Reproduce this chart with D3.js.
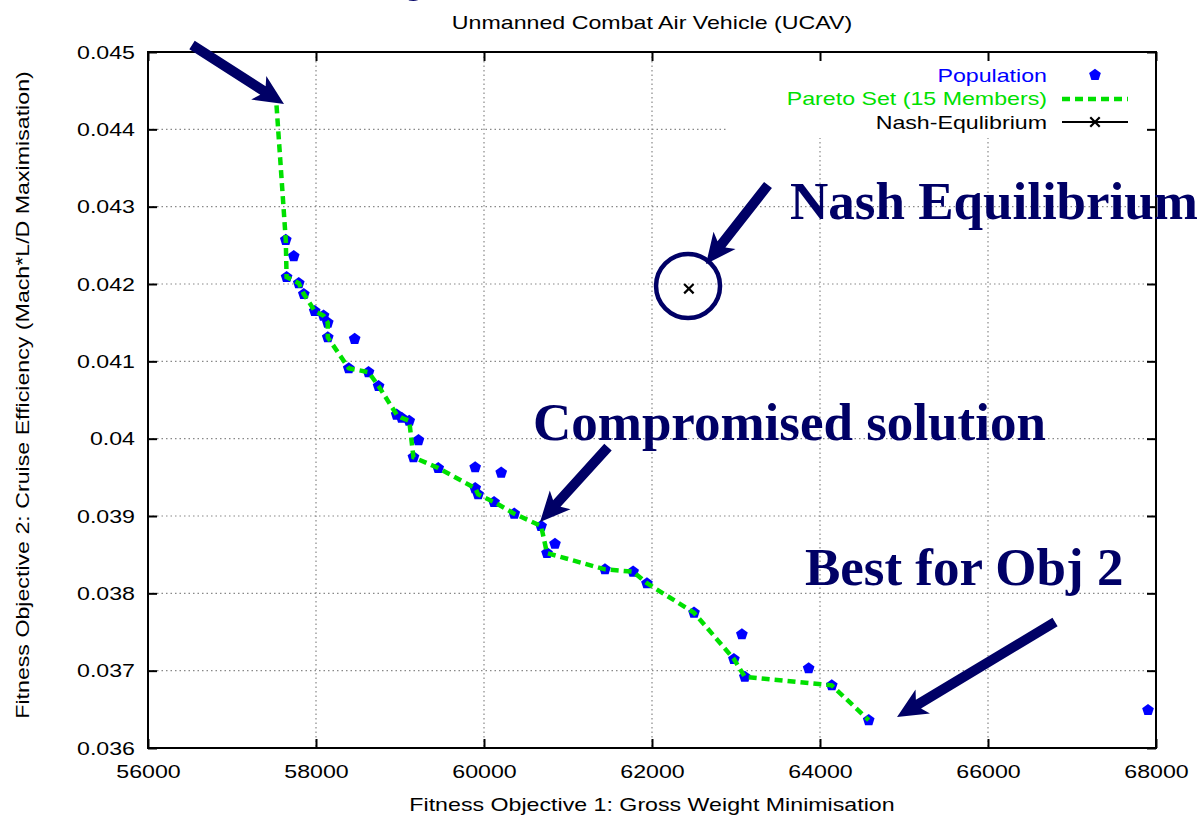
<!DOCTYPE html>
<html>
<head>
<meta charset="utf-8">
<script src="https://cdn.jsdelivr.net/npm/d3@7"></script>
<style>
  body { margin: 0; background: #fff; }
  svg { display: block; }
  .sans { font-family: "Liberation Sans", Arial, sans-serif; font-size: 19px; }
  .note { font-family: "Liberation Serif", "Times New Roman", serif; font-weight: bold; font-size: 53px; fill: #000066; }
</style>
</head>
<body>
<svg width="1200" height="820"></svg>
<script>
// tick values / labels
const xTicks = [56000, 58000, 60000, 62000, 64000, 66000, 68000];
const xTickLabels = ['56000', '58000', '60000', '62000', '64000', '66000', '68000'];
const yTicks = [0.036, 0.037, 0.038, 0.039, 0.040, 0.041, 0.042, 0.043, 0.044, 0.045];
const yTickLabels = ['0.036', '0.037', '0.038', '0.039', '0.04', '0.041', '0.042', '0.043', '0.044', '0.045'];

// Pareto set (line through the front)
const paretoX = [57530, 57640, 57650, 57795, 57855, 57985, 58090, 58140, 58140, 58390, 58625, 58745,
  58960, 59020, 59110, 59160, 59455, 59895, 59930, 60120, 60360, 60680, 60750, 61440, 61775,
  61940, 62500, 62975, 63105, 64140, 64580];
const paretoY = [0.04431, 0.04257, 0.04209, 0.04201, 0.04187, 0.04165, 0.04159, 0.04150, 0.04131,
  0.04091, 0.04086, 0.04068, 0.04031, 0.04027, 0.04023, 0.03976, 0.03962, 0.03936, 0.03928,
  0.03918, 0.03903, 0.03887, 0.03852, 0.03831, 0.03828, 0.03813, 0.03775, 0.03715, 0.03692,
  0.03681, 0.03636];

// whole population
const popX = [57640, 57650, 57795, 57855, 57985, 58090, 58140, 58140, 58390, 58625, 58745,
  58960, 59020, 59110, 59160, 59455, 59895, 59930, 60120, 60360, 60680, 60750, 61440, 61775,
  61940, 62500, 62975, 63105, 64140, 64580,
  57735, 58460, 59220, 59895, 60205, 60845, 63070, 63865, 67905];
const popY = [0.04257, 0.04209, 0.04201, 0.04187, 0.04165, 0.04159, 0.04150, 0.04131,
  0.04091, 0.04086, 0.04068, 0.04031, 0.04027, 0.04023, 0.03976, 0.03962, 0.03936, 0.03928,
  0.03918, 0.03903, 0.03887, 0.03852, 0.03831, 0.03828, 0.03813, 0.03775, 0.03715, 0.03692,
  0.03681, 0.03636,
  0.04236, 0.04129, 0.03998, 0.03963, 0.03956, 0.03864, 0.03747, 0.03703, 0.03649];

// Nash equilibrium
const nashX = [62439];
const nashY = [0.04194];

// annotations (data coords)
const noteTexts = ['Obj', 'Nash Equilibrium', 'Compromised solution', 'Best for Obj 2'];
const noteX = [58270, 63643, 60583, 63821];
const noteY = [0.0458, 0.04284, 0.039983, 0.038108];
const arrowFrom = [[56524, 0.045091], [63381, 0.04328], [61476, 0.039892], [66798, 0.037629]];
const arrowTo = [[57619, 0.044328], [62643, 0.042259], [60667, 0.038922], [64917, 0.036401]];

const mLeft = 148, mRight = 1156, mTop = 52, mBottom = 748;
const navy = '#000066';
const green = '#00e000';

const svg = d3.select('svg');

const x = d3.scaleLinear().domain([56000, 68000]).range([mLeft, mRight]);
const y = d3.scaleLinear().domain([0.036, 0.045]).range([mBottom, mTop]);

// stretch helper: source font is wider than Liberation Sans
const stretch = sel => sel.each(function () {
  const len = this.getComputedTextLength();
  d3.select(this).attr('textLength', len * 1.22).attr('lengthAdjust', 'spacingAndGlyphs');
});

// grid
const grid = svg.append('g')
    .attr('stroke', '#888')
    .attr('stroke-width', 1.2)
    .attr('stroke-dasharray', '1.5,3');
grid.selectAll('.gx')
    .data(xTicks.slice(1, -1))
    .enter()
    .append('line')
    .attr('x1', d => x(d)).attr('x2', d => x(d))
    .attr('y1', mTop).attr('y2', mBottom);
grid.selectAll('.gy')
    .data(yTicks.slice(1, -1))
    .enter()
    .append('line')
    .attr('x1', mLeft).attr('x2', mRight)
    .attr('y1', d => y(d)).attr('y2', d => y(d));

// legend background hides grid
svg.append('rect')
    .attr('x', 727).attr('y', mTop + 1)
    .attr('width', mRight - 728).attr('height', 85)
    .attr('fill', '#fff');

// pentagon symbol
const pentagon = {
  draw(ctx, size) {
    const r = Math.sqrt(size / 2.378);
    for (let i = 0; i < 5; i++) {
      const a = -Math.PI / 2 + i * 2 * Math.PI / 5;
      if (i === 0) ctx.moveTo(r * Math.cos(a), r * Math.sin(a));
      else ctx.lineTo(r * Math.cos(a), r * Math.sin(a));
    }
    ctx.closePath();
  }
};
const pent = d3.symbol().type(pentagon).size(90);

svg.append('g')
  .selectAll('path')
  .data(popX.map((d, i) => [d, popY[i]]))
  .enter()
  .append('path')
    .attr('d', pent)
    .attr('transform', d => `translate(${x(d[0])},${y(d[1])})`)
    .attr('fill', '#0000ff');

// pareto line
const line = d3.line().x(d => x(d[0])).y(d => y(d[1]));
svg.append('path')
    .datum(paretoX.map((d, i) => [d, paretoY[i]]))
    .attr('d', line)
    .attr('fill', 'none')
    .attr('stroke', green)
    .attr('stroke-width', 4.5)
    .attr('stroke-dasharray', '8,5');

// nash marker
const cross = d3.symbol().type(d3.symbolX).size(60);
svg.append('g')
  .selectAll('path')
  .data(nashX.map((d, i) => [d, nashY[i]]))
  .enter()
  .append('path')
    .attr('d', cross)
    .attr('transform', d => `translate(${x(d[0])},${y(d[1])})`)
    .attr('fill', 'none')
    .attr('stroke', '#000')
    .attr('stroke-width', 2.2);

// axes (ticks point inward on all sides)
const fmt = (labels, ticks) => d => labels[ticks.indexOf(d)];
const gx = svg.append('g')
    .attr('class', 'sans')
    .attr('transform', `translate(0,${mBottom})`)
    .call(d3.axisBottom(x).tickValues(xTicks).tickSize(-9).tickPadding(17).tickFormat(fmt(xTickLabels, xTicks)));
const gy = svg.append('g')
    .attr('class', 'sans')
    .attr('transform', `translate(${mLeft},0)`)
    .call(d3.axisLeft(y).tickValues(yTicks).tickSize(-9).tickPadding(13).tickFormat(fmt(yTickLabels, yTicks)));
svg.append('g')
    .attr('transform', `translate(0,${mTop})`)
    .call(d3.axisTop(x).tickValues(xTicks).tickSize(-9).tickFormat(''));
svg.append('g')
    .attr('transform', `translate(${mRight},0)`)
    .call(d3.axisRight(y).tickValues(yTicks).tickSize(-9).tickFormat(''));
svg.selectAll('.domain').remove();
svg.selectAll('.tick line').attr('stroke', '#000').attr('stroke-width', 2);
svg.selectAll('.tick text').attr('fill', '#000').style('font-size', '19px')
    .style('font-family', '"Liberation Sans", Arial, sans-serif');
gx.selectAll('.tick text').call(stretch);
gy.selectAll('.tick text').call(stretch);

svg.append('rect')
    .attr('x', mLeft).attr('y', mTop)
    .attr('width', mRight - mLeft).attr('height', mBottom - mTop)
    .attr('fill', 'none')
    .attr('stroke', '#000')
    .attr('stroke-width', 2);

// titles
svg.append('text')
    .attr('class', 'sans')
    .attr('x', (mLeft + mRight) / 2).attr('y', 29)
    .attr('text-anchor', 'middle')
    .text('Unmanned Combat Air Vehicle (UCAV)')
    .call(stretch);
svg.append('text')
    .attr('class', 'sans')
    .attr('x', (mLeft + mRight) / 2).attr('y', 811)
    .attr('text-anchor', 'middle')
    .text('Fitness Objective 1: Gross Weight Minimisation')
    .call(stretch);
svg.append('text')
    .attr('class', 'sans')
    .attr('transform', 'translate(29,395) rotate(-90)')
    .attr('text-anchor', 'middle')
    .text('Fitness Objective 2: Cruise Efficiency (Mach*L/D Maximisation)')
    .call(stretch);

// legend
const lgX = 1047, lgS0 = 1062, lgS1 = 1128;
const lg = svg.append('g').attr('class', 'sans');
lg.append('text').attr('x', lgX).attr('y', 82).attr('text-anchor', 'end')
    .attr('fill', '#0000ff').text('Population').call(stretch);
lg.append('path').attr('d', pent).attr('transform', `translate(${(lgS0 + lgS1) / 2},75)`).attr('fill', '#0000ff');
lg.append('text').attr('x', lgX).attr('y', 105).attr('text-anchor', 'end')
    .attr('fill', green).text('Pareto Set (15 Members)').call(stretch);
lg.append('line').attr('x1', lgS0).attr('x2', lgS1).attr('y1', 99).attr('y2', 99)
    .attr('stroke', green).attr('stroke-width', 4.5).attr('stroke-dasharray', '8,5');
lg.append('text').attr('x', lgX).attr('y', 129).attr('text-anchor', 'end')
    .attr('fill', '#000').text('Nash-Equlibrium').call(stretch);
lg.append('line').attr('x1', lgS0).attr('x2', lgS1).attr('y1', 122).attr('y2', 122)
    .attr('stroke', '#000').attr('stroke-width', 2);
lg.append('path').attr('d', cross).attr('transform', `translate(${(lgS0 + lgS1) / 2},122)`)
    .attr('fill', 'none').attr('stroke', '#000').attr('stroke-width', 2.2);

// annotations
const arrowPath = (x1, y1, x2, y2) => {
  const dx = x2 - x1, dy = y2 - y1, len = Math.hypot(dx, dy);
  const ux = dx / len, uy = dy / len, nx = -uy, ny = ux;
  const w = 5, L = 30, H = 14, notch = 5;
  const bx = x2 - ux * (L - notch), by = y2 - uy * (L - notch);
  const cx = x2 - ux * L, cy = y2 - uy * L;
  const pts = [
    [x1 + nx * w, y1 + ny * w], [bx + nx * w, by + ny * w], [cx + nx * H, cy + ny * H],
    [x2, y2], [cx - nx * H, cy - ny * H], [bx - nx * w, by - ny * w], [x1 - nx * w, y1 - ny * w]
  ];
  return 'M' + pts.map(p => p.join(',')).join('L') + 'Z';
};
const notes = svg.append('g');
notes.selectAll('path')
    .data(arrowFrom.map((d, i) => [d, arrowTo[i]]))
    .enter()
    .append('path')
    .attr('d', d => arrowPath(x(d[0][0]), y(d[0][1]), x(d[1][0]), y(d[1][1])))
    .attr('fill', navy);
notes.append('circle')
    .attr('cx', x(62429)).attr('cy', y(0.041974)).attr('r', 32)
    .attr('fill', 'none').attr('stroke', navy).attr('stroke-width', 4.5);
notes.selectAll('text')
    .data(noteTexts)
    .enter()
    .append('text')
    .attr('class', 'note')
    .attr('x', (d, i) => x(noteX[i]))
    .attr('y', (d, i) => y(noteY[i]))
    .text(d => d);
</script>
</body>
</html>
